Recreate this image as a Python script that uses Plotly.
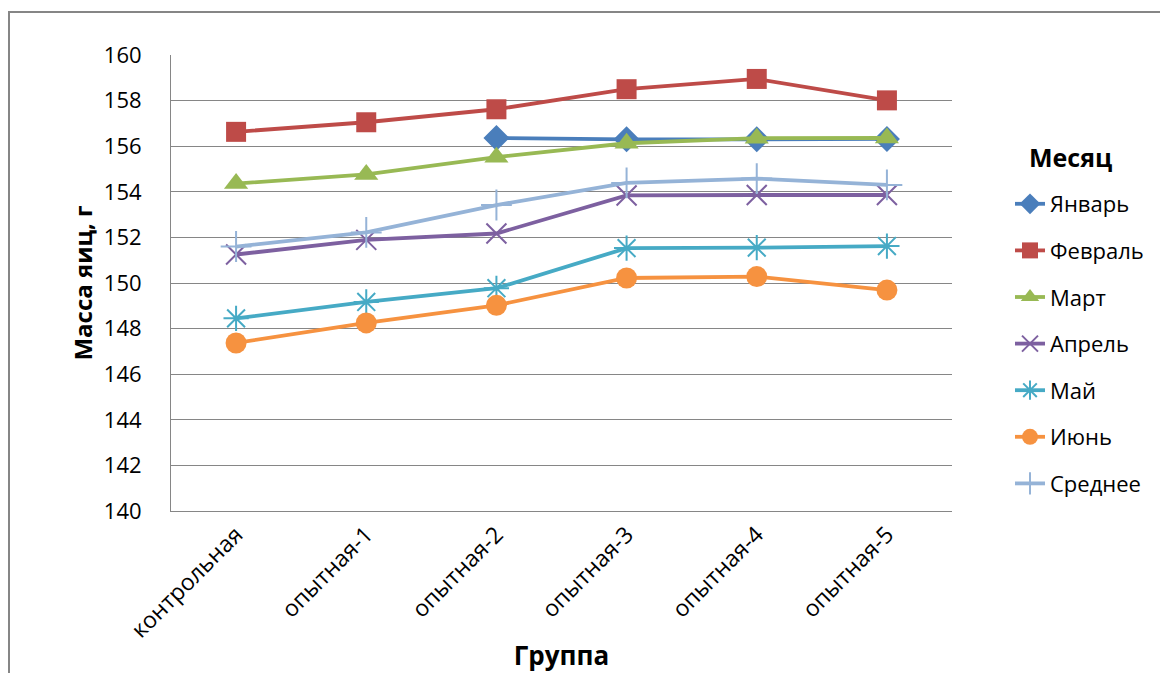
import plotly.graph_objects as go

groups = ["контрольная", "опытная-1", "опытная-2", "опытная-3", "опытная-4", "опытная-5"]
jan = [None, None, 156.36, 156.30, 156.30, 156.32]
feb = [156.63, 157.05, 157.62, 158.50, 158.95, 158.01]
mar = [154.36, 154.76, 155.52, 156.13, 156.35, 156.36]
apr = [151.25, 151.89, 152.17, 153.84, 153.86, 153.86]
may = [148.45, 149.17, 149.77, 151.53, 151.55, 151.62]
jun = [147.37, 148.25, 149.02, 150.22, 150.28, 149.69]
avg = [151.60, 152.22, 153.42, 154.39, 154.58, 154.30]

names = ["Январь", "Февраль", "Март", "Апрель", "Май", "Июнь", "Среднее"]
series = [jan, feb, mar, apr, may, jun, avg]
line_colors = ["#4A7EBB", "#BE4B48", "#98B954", "#7D60A0", "#46AAC5", "#F69240", "#95B3D7"]
symbols = ["diamond", "square", "triangle-up", "x-thin-open", "asterisk-open", "circle", "cross-thin-open"]
sizes = [20, 20, 21, 20, 21, 21, 22]

FONT = "Open Sans"

fig = go.Figure()
for i, (n, s) in enumerate(zip(names, series)):
    c = line_colors[i]
    open_sym = symbols[i].endswith("-open")
    fig.add_trace(go.Scatter(
        x=groups, y=s, name=n, mode="lines+markers",
        line=dict(color=c, width=3.8),
        marker=dict(symbol=symbols[i], size=sizes[i], color=c,
                    line=dict(color=c, width=2 if open_sym else 0)),
        legendgroup=n,
        connectgaps=False,
    ))

OFF = 8  # page offset of the figure
W, H = 1168 - 2 * OFF, 673 - OFF
L, R, T, B = 171 - OFF, 952 - OFF, 55 - OFF, 511 - OFF

def px(xp):
    return (xp - OFF - L) / (R - L)

def py(yp):
    return (B - (yp - OFF)) / (B - T)

fig.update_layout(
    width=W, height=H,
    margin=dict(l=L, r=W - R, t=T, b=H - B, pad=0, autoexpand=False),
    paper_bgcolor="white", plot_bgcolor="white",
    font=dict(family=FONT, size=22, color="#000000"),
    showlegend=True,
    legend=dict(
        x=px(1010), y=py(183), xanchor="left", yanchor="top",
        font=dict(size=22, family=FONT),
        tracegroupgap=15,
        bgcolor="rgba(0,0,0,0)",
    ),
    annotations=[dict(text="<b>Месяц</b>", xref="paper", yref="paper",
                      x=px(1070), y=py(157), xanchor="center", yanchor="middle",
                      showarrow=False, font=dict(size=25, family=FONT, color="#000000"))],
    xaxis=dict(
        type="category", range=[-0.5, 5.5], automargin=False,
        showgrid=False, showline=True, linecolor="#868686", linewidth=1,
        ticks="", tickangle=-45, tickfont=dict(size=23, family=FONT),
        title=dict(text="<b>Группа</b>", font=dict(size=26, family=FONT), standoff=4),
    ),
    yaxis=dict(
        range=[140, 160], dtick=2, tick0=140, automargin=False,
        showgrid=True, gridcolor="#868686", gridwidth=1,
        showline=True, linecolor="#868686", linewidth=1,
        ticks="", tickfont=dict(size=22, family=FONT), ticklabelstandoff=24,
        zeroline=False,
        title=dict(text="<b>Масса яиц, г</b>", font=dict(size=24, family=FONT), standoff=4),
    ),
    shapes=[dict(type="rect", xref="paper", yref="paper",
                 x0=px(9), x1=px(1200), y0=py(720), y1=py(12),
                 line=dict(color="#868686", width=2), fillcolor="rgba(0,0,0,0)", layer="below")],
)

fig.write_html("out.html")
